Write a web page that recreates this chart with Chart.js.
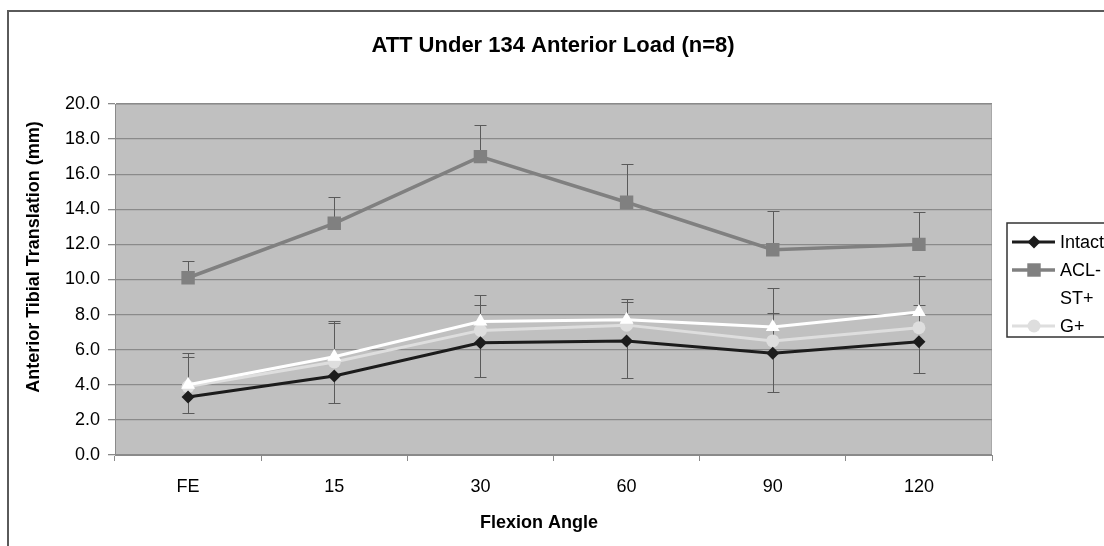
<!DOCTYPE html>
<html>
<head>
<meta charset="utf-8">
<script src="https://cdn.jsdelivr.net/npm/chart.js@4"></script>
<style>
  body { margin: 0; background: #fff; overflow: hidden; }
</style>
</head>
<body>
<canvas id="myChart" width="1104" height="546"></canvas>
<script>
var categories = ["FE", "15", "30", "60", "90", "120"];
var yTicks = [0, 2, 4, 6, 8, 10, 12, 14, 16, 18, 20];

var intact = [3.3, 4.5, 6.4, 6.5, 5.8, 6.45];
var aclDef = [10.1, 13.2, 17.0, 14.4, 11.7, 12.0];
var stPlus = [4.0, 5.6, 7.6, 7.7, 7.3, 8.15];
var gPlus = [3.9, 5.3, 7.1, 7.4, 6.5, 7.25];

// ends of the error bars (only one side is visible per series)
var intactLow = [2.4, 2.95, 4.45, 4.4, 3.6, 4.65];
var aclHigh = [11.05, 14.7, 18.8, 16.6, 13.9, 13.85];
var stHigh = [5.8, 7.65, 9.1, 8.9, 9.5, 10.2];
var gHigh = [5.6, 7.5, 8.55, 8.7, 8.1, 8.55];

var FONT = "'Liberation Sans', Arial, sans-serif";

var framePlugin = {
	id: "frame",
	beforeDraw: function (chart) {
		var c = chart.ctx, a = chart.chartArea;
		c.save();
		c.fillStyle = "#fff";
		c.fillRect(0, 0, chart.width, chart.height);
		c.strokeStyle = "#5a5a5a";
		c.lineWidth = 2;
		c.strokeRect(8, 11, chart.width + 20, chart.height + 20);
		c.fillStyle = "#c0c0c0";
		c.fillRect(a.left, a.top, a.right - a.left, a.bottom - a.top);
		c.strokeStyle = "#a8a8a8";
		c.lineWidth = 1;
		c.strokeRect(a.left + 0.5, a.top + 0.5, a.right - a.left - 1, a.bottom - a.top);
		c.restore();
	},
	afterDraw: function (chart) {
		var c = chart.ctx;
		c.save();
		c.fillStyle = "#000";
		c.textAlign = "center";
		c.textBaseline = "middle";
		// title
		c.font = "bold 22px " + FONT;
		c.fillText("ATT Under 134 Anterior Load (n=8)", 553, 46);
		// axis titles
		c.font = "bold 18px " + FONT;
		c.fillText("Flexion Angle", 539, 523);
		c.save();
		c.translate(34, 257);
		c.rotate(-Math.PI / 2);
		c.fillText("Anterior Tibial Translation (mm)", 0, 0);
		c.restore();

		// legend
		c.strokeStyle = "#333";
		c.lineWidth = 1.5;
		c.strokeRect(1007, 223, 120, 114);
		var ys = [242, 270, 298, 326];
		chart.data.datasets.forEach(function (ds, i) {
			var y = ys[i];
			c.strokeStyle = ds.borderColor;
			c.lineWidth = ds.borderWidth;
			c.beginPath();
			c.moveTo(1012, y);
			c.lineTo(1055, y);
			c.stroke();
			drawMarker(c, ds.pointStyle, 1034, y, ds.pointRadius, ds.pointBackgroundColor);
			c.fillStyle = "#000";
			c.font = "18px " + FONT;
			c.textAlign = "left";
			c.fillText(ds.label, 1060, y + 1);
		});
		c.restore();
	},
	beforeDatasetsDraw: function (chart) {
		var c = chart.ctx, yScale = chart.scales.y;
		c.save();
		c.strokeStyle = "#5a5a5a";
		c.lineWidth = 1;
		chart.data.datasets.forEach(function (ds, i) {
			var meta = chart.getDatasetMeta(i);
			ds.errEnd.forEach(function (v, j) {
				var x = Math.round(meta.data[j].x) + 0.5;
				var y0 = yScale.getPixelForValue(ds.data[j]);
				var y1 = Math.round(yScale.getPixelForValue(v)) + 0.5;
				c.beginPath();
				c.moveTo(x, y0);
				c.lineTo(x, y1);
				c.moveTo(x - 6, y1);
				c.lineTo(x + 6, y1);
				c.stroke();
			});
		});
		c.restore();
	}
};

// same geometry as Chart.js point styles
function drawMarker(c, style, x, y, r, color) {
	c.fillStyle = color;
	c.beginPath();
	if (style === "rectRot") {
		c.moveTo(x, y - r); c.lineTo(x + r, y); c.lineTo(x, y + r); c.lineTo(x - r, y);
	} else if (style === "rect") {
		var s = r * Math.SQRT1_2;
		c.rect(x - s, y - s, s * 2, s * 2);
	} else if (style === "triangle") {
		for (var k = 0; k < 3; k++) {
			var ang = k * 2 * Math.PI / 3;
			c.lineTo(x + Math.sin(ang) * r, y - Math.cos(ang) * r);
		}
	} else {
		c.arc(x, y, r, 0, Math.PI * 2);
	}
	c.closePath();
	c.fill();
}

var graphData = {
	type: "line",
	data: {
		labels: categories,
		datasets: [
			{
				label: "Intact",
				data: intact,
				errEnd: intactLow,
				borderColor: "#1c1c1c",
				borderWidth: 3,
				pointStyle: "rectRot",
				pointRadius: 6.5,
				pointBackgroundColor: "#1c1c1c",
				pointBorderWidth: 0,
			},
			{
				label: "ACL-",
				data: aclDef,
				errEnd: aclHigh,
				borderColor: "#808080",
				borderWidth: 3.5,
				pointStyle: "rect",
				pointRadius: 9.5,
				pointBackgroundColor: "#808080",
				pointBorderWidth: 0,
			},
			{
				label: "ST+",
				data: stPlus,
				errEnd: stHigh,
				borderColor: "#ffffff",
				borderWidth: 3,
				pointStyle: "triangle",
				pointRadius: 8,
				pointBackgroundColor: "#ffffff",
				pointBorderWidth: 0,
			},
			{
				label: "G+",
				data: gPlus,
				errEnd: gHigh,
				borderColor: "#dedede",
				borderWidth: 3,
				pointStyle: "circle",
				pointRadius: 6.5,
				pointBackgroundColor: "#dedede",
				pointBorderWidth: 0,
			},
		],
	},
	options: {
		responsive: false,
		animation: false,
		layout: { padding: { left: 0, right: 112, top: 104, bottom: 0 } },
		plugins: {
			legend: { display: false },
			title: { display: false },
			tooltip: { enabled: false },
		},
		scales: {
			x: {
				offset: true,
				grid: { offset: true, drawOnChartArea: false, color: "#8a8a8a", tickLength: 6 },
				border: { color: "#8a8a8a" },
				ticks: { color: "#000", font: { family: FONT, size: 18 }, padding: 15 },
				afterFit: function (s) { s.height = 91; },
			},
			y: {
				min: 0,
				max: 20,
				afterBuildTicks: function (s) { s.ticks = yTicks.map(function (v) { return { value: v }; }); },
				grid: { color: "#8a8a8a", tickLength: 7, lineWidth: 1.3 },
				border: { color: "#8a8a8a" },
				ticks: {
					color: "#000",
					font: { family: FONT, size: 18 },
					padding: 8,
					callback: function (v) { return v.toFixed(1); },
				},
				afterFit: function (s) { s.width = 115; },
			},
		},
	},
	plugins: [framePlugin],
};

var ctx = document.getElementById("myChart").getContext("2d");
var myChart = new Chart(ctx, graphData);
</script>
</body>
</html>
